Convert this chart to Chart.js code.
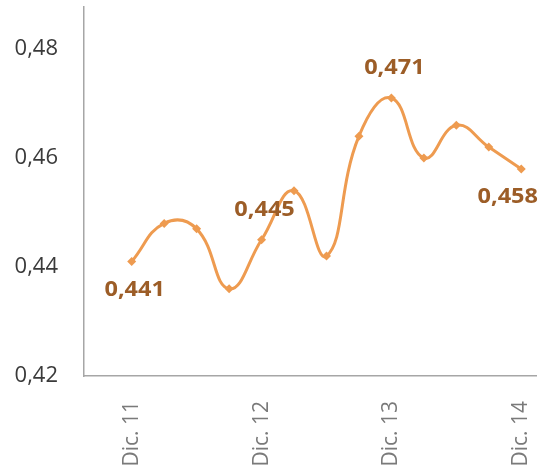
<!DOCTYPE html>
<html>
<head>
<meta charset="utf-8">
<script src="https://cdn.jsdelivr.net/npm/chart.js@4/dist/chart.umd.min.js"></script>
<style>
  html, body { margin: 0; padding: 0; background: #ffffff; }
  #wrap { width: 541px; height: 476px; }
</style>
</head>
<body>
<div id="wrap"><canvas id="c" width="541" height="476"></canvas></div>
<script>
// Quarterly index, December 2011 – December 2014
const periods = ['Dic. 11', 'Mar. 12', 'Jun. 12', 'Sep. 12', 'Dic. 12', 'Mar. 13', 'Jun. 13',
                 'Sep. 13', 'Dic. 13', 'Mar. 14', 'Jun. 14', 'Sep. 14', 'Dic. 14'];
const values = [0.441, 0.448, 0.447, 0.436, 0.445, 0.454, 0.442, 0.464, 0.471, 0.460, 0.466, 0.462, 0.458];
// Periods shown on the horizontal axis
const axisPeriods = ['Dic. 11', 'Dic. 12', 'Dic. 13', 'Dic. 14'];
const yTicks = [0.42, 0.44, 0.46, 0.48];
// Periods whose value is written next to the point, and where the label sits
const labelledPeriods = ['Dic. 11', 'Dic. 12', 'Dic. 13', 'Dic. 14'];
const labelSide = ['below', 'above', 'above', 'below'];

const FONT = '"Open Sans", "Liberation Sans", sans-serif';
const fmt = v => v.toString().replace('.', ',');

const points = values.map((v, i) => ({ x: i, y: v }));

// Writes the value next to selected points, kept inside the canvas
const valueLabels = {
  id: 'valueLabels',
  afterDatasetsDraw(chart) {
    const ctx = chart.ctx;
    const meta = chart.getDatasetMeta(0);
    const stretch = 1.12;
    ctx.save();
    ctx.font = 'bold 21px ' + FONT;
    ctx.fillStyle = '#9C5D27';
    ctx.textAlign = 'center';
    ctx.textBaseline = 'middle';
    labelledPeriods.forEach((p, k) => {
      const i = periods.indexOf(p);
      const el = meta.data[i];
      const text = fmt(values[i]);
      const half = ctx.measureText(text).width * stretch / 2;
      let x = el.x + 3;
      x = Math.min(x, chart.width - 3 - half);
      const y = el.y + (labelSide[k] === 'below' ? 28 : -30);
      ctx.save();
      ctx.translate(x, y);
      ctx.scale(stretch, 1);
      ctx.fillText(text, 0, 0);
      ctx.restore();
    });
    ctx.restore();
  }
};

new Chart(document.getElementById('c'), {
  type: 'line',
  data: {
    datasets: [{
      data: points,
      borderColor: '#EE9B50',
      backgroundColor: '#EE9B50',
      borderWidth: 3,
      tension: 0.45,
      pointStyle: 'rectRot',
      pointRadius: 4.5,
      pointHoverRadius: 4.5,
      pointBorderWidth: 0,
      fill: false
    }]
  },
  options: {
    responsive: false,
    animation: false,
    layout: { padding: { top: 7, right: 4, left: 0, bottom: 0 } },
    plugins: { legend: { display: false }, tooltip: { enabled: false } },
    scales: {
      x: {
        type: 'linear',
        min: -1.47,
        max: 12.47,
        afterBuildTicks: s => { s.ticks = axisPeriods.map(p => ({ value: periods.indexOf(p) })); },
        afterFit: s => { s.height = 100; s.paddingLeft = 0; s.paddingRight = 0; },
        grid: { display: false, drawTicks: false },
        border: { display: true, color: '#A6A6A6', width: 1.5 },
        ticks: {
          callback: v => periods[v],
          color: '#7A7A7A',
          font: { family: FONT, size: 21 },
          maxRotation: 90,
          minRotation: 90,
          padding: 25
        }
      },
      y: {
        min: 0.42,
        max: 0.4877,
        afterBuildTicks: s => { s.ticks = yTicks.map(v => ({ value: v })); },
        afterFit: s => { s.width = 84; s.paddingTop = 0; s.paddingBottom = 0; },
        grid: { display: false, drawTicks: false },
        border: { display: true, color: '#A6A6A6', width: 1.5 },
        ticks: {
          callback: v => fmt(v),
          color: '#3A3A3A',
          font: { family: FONT, size: 22 },
          padding: 26
        }
      }
    }
  },
  plugins: [valueLabels]
});
</script>
</body>
</html>
